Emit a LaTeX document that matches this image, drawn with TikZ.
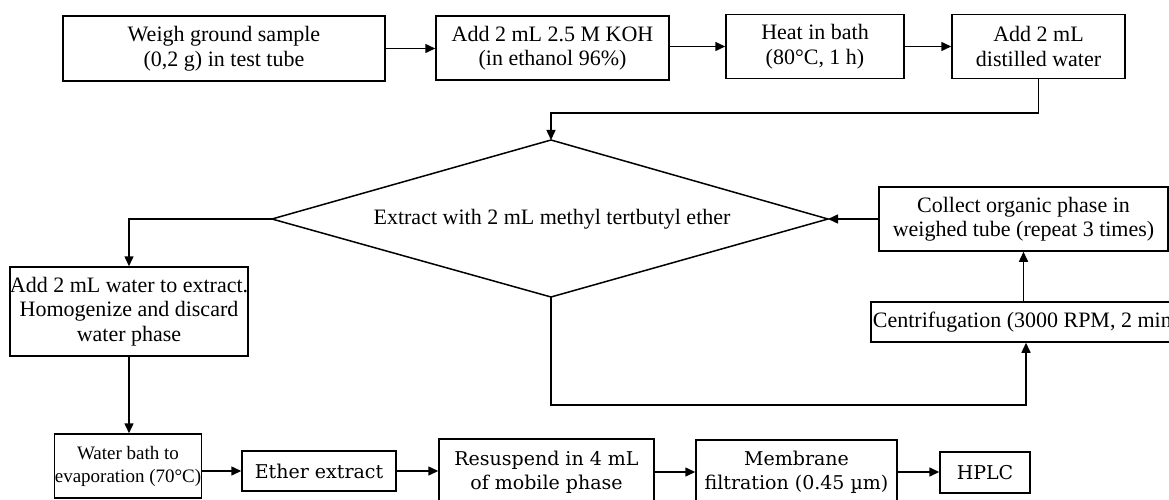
\documentclass[tikz,border=0pt]{standalone}
\usepackage{fontspec}
\setmainfont{Liberation Serif}
\newfontfamily\geo{DejaVu Serif}
\usetikzlibrary{arrows.meta}
\tikzset{
  box/.style={draw, line width=1.5pt, align=center, inner sep=0pt,
    font=\fontsize{22}{24.5}\selectfont},
  gbox/.style={draw, line width=1.5pt, align=center, inner sep=0pt,
    font=\geo\fontsize{19}{24}\selectfont},
  arr/.style={line width=1.5pt, -{Triangle[length=10pt,width=9pt]}},
  ln/.style={line width=1.5pt},
  dia/.style={line width=1.5pt, line join=miter}
}
\begin{document}
\begin{tikzpicture}[x=1pt,y=-1pt]
\useasboundingbox (0,0) rectangle (1169,500);
% top row
\node[box, minimum width=322pt, minimum height=65pt] (b1) at (224,48.5) {Weigh ground sample\\(0,2 g) in test tube};
\node[box, minimum width=233pt, minimum height=64pt] (b2) at (552.5,48) {Add 2 mL 2.5 M KOH\\(in ethanol 96\%)};
\node[box, minimum width=178pt, minimum height=64pt] (b3) at (815,46.5) {Heat in bath\\(80°C, 1 h)};
\node[box, minimum width=173pt, minimum height=64pt] (b4) at (1038.5,46.5) {Add 2 mL\\distilled water};
% diamond
\coordinate (dtop) at (551,140);
\coordinate (dleft) at (272,219);
\coordinate (dbot) at (551,297);
\coordinate (dright) at (828,219);
\draw[dia] (dtop) -- (dright) -- (dbot) -- (dleft) -- cycle;
\node[font=\fontsize{22}{24.5}\selectfont, inner sep=0pt] (dtext) at (552,219) {Extract with 2 mL methyl tertbutyl ether};
% right side
\node[box, minimum width=289pt, minimum height=64pt] (col) at (1023.5,219) {Collect organic phase in\\weighed tube (repeat 3 times)};
\node[box, minimum width=310pt, minimum height=40pt] (cen) at (1026,322) {Centrifugation (3000 RPM, 2 min)};
% left side
\node[box, minimum width=236pt, minimum height=89pt] (addw) at (129,311.5) {Add 2 mL water to extract.\\Homogenize and discard\\water phase};
\node[draw, line width=1.5pt, align=center, inner sep=0pt, minimum width=147pt, minimum height=64pt,
  font=\fontsize{19}{23}\selectfont] (wb) at (128,466) {Water bath to\\evaporation (70°C)};
% bottom row
\node[gbox, minimum width=154pt, minimum height=40pt] (eth) at (319,471) {Ether extract};
\node[gbox, minimum width=215pt, minimum height=66pt] (res) at (546.5,472) {Resuspend in 4 mL\\of mobile phase};
\node[gbox, minimum width=201pt, minimum height=64pt] (mem) at (796.5,472) {Membrane\\filtration (0.45 µm)};
\node[gbox, minimum width=90pt, minimum height=41pt] (hplc) at (985,472.5) {HPLC};
% helper coordinates
\coordinate (k1) at (551,113);
\coordinate (k2) at (1026,405);
% connectors
\draw[arr] (b1.east) -- (b1.east -| b2.west);
\draw[arr] (b2.east |- b3.west) -- (b3.west);
\draw[arr] (b3.east) -- (b4.west);
\draw[arr] (b4.south) |- (k1) -- (dtop);
\draw[arr] (dleft) -| (addw.north);
\draw[arr] (col.west) -- (dright);
\draw[arr] (cen.north -| col.south) -- (col.south);
\draw[arr] (dbot) |- (k2) -- (cen.south);
\draw[arr] (addw.south) -- (addw.south |- wb.north);
\draw[arr] (wb.east |- eth.west) -- (eth.west);
\draw[arr] (eth.east) -- (eth.east -| res.west);
\draw[arr] (res.east) -- (res.east -| mem.west);
\draw[arr] (mem.east) -- (mem.east -| hplc.west);
\end{tikzpicture}
\end{document}
